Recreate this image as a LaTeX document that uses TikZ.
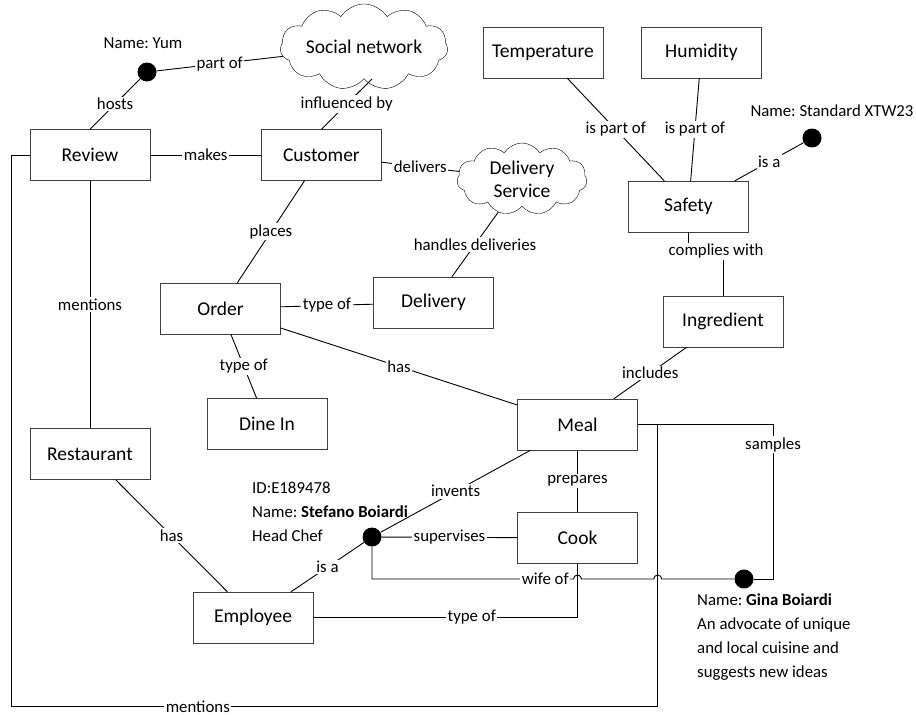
\documentclass[tikz,border=0pt]{standalone}
\usepackage{fontspec}
\setmainfont{Carlito}
\usetikzlibrary{positioning,shapes.symbols}

\begin{document}
\frenchspacing
\begin{tikzpicture}[x=1pt,y=-1pt,box/.style={draw=black!75,fill=white,minimum width=120pt,minimum height=51pt,inner sep=2pt,font=\fontsize{19.5}{23}\selectfont},cld/.style={cloud,cloud puffs=11,cloud puff arc=115,draw=black,fill=white,inner sep=0pt,align=center,font=\fontsize{19.5}{23}\selectfont},dot/.style={circle,fill=black,inner sep=0pt,minimum size=19pt},lbl/.style={fill=white,inner sep=1.5pt,font=\fontsize{16.8}{20}\selectfont},txt/.style={inner sep=0pt,align=left,font=\fontsize{16.8}{24}\selectfont},conn/.style={draw=black,line width=0.9pt}]
\useasboundingbox (0,0) rectangle (916,715);
\node[box] (review) at (90,155) {Review};
\node[box,right=111pt of review] (customer) {Customer};
\node[box] (order) at (220.5,308.5) {Order};
\node[box] (delivery) at (433.5,302.5) {Delivery};
\node[box] (dinein) at (267,424) {Dine In};
\node[box] (restaurant) at (90,454) {Restaurant};
\node[box] (employee) at (253,617.5) {Employee};
\node[box] (meal) at (577.5,424.5) {Meal};
\node[box,below=62pt of meal] (cook) {Cook};
\node[box] (ingredient) at (723,321.5) {Ingredient};
\node[box] (safety) at (688.5,206.5) {Safety};
\node[box] (temperature) at (543,52.5) {Temperature};
\node[box,right=38pt of temperature] (humidity) {Humidity};
\node[cld,aspect=2.6,minimum width=164pt,minimum height=64pt] (social) at (364,47) {Social network};
\node[cld,aspect=1.8,minimum width=130pt,minimum height=72pt] (delserv) at (522,179) {Delivery\\Service};
\node[dot] (yum) at (147,72) {};
\node[dot] (xtw) at (812,138) {};
\node[dot] (chef) at (372,537) {};
\node[dot] (gina) at (744,579) {};
\node[txt] (yumtxt) at (143,43) {Name: Yum};
\node[txt] (xtwtxt) at (832,111) {Name: Standard XTW23};
\node[txt,anchor=north west] (cheftxt) at (252,482) {ID:E189478\\Name: \textbf{Stefano Boiardi}\\Head Chef};
\node[txt,anchor=north west] (ginatxt) at (697,594) {Name: \textbf{Gina Boiardi}\\An advocate of unique\\and local cuisine and\\suggests new ideas};
\draw[conn](review.north)--node[lbl]{hosts}(yum);\draw[conn](yum)--node[lbl]{part of}(social);
\draw[conn](customer.north)--node[lbl]{influenced by}([xshift=8pt]social.south);
\draw[conn](review)--node[lbl]{makes}(customer);\draw[conn](customer)--node[lbl]{delivers}(delserv);
\draw[conn](delserv)--node[lbl]{handles deliveries}(delivery);\draw[conn](customer)--node[lbl]{places}(order);
\draw[conn](order)--node[lbl]{type of}(delivery);\draw[conn](order)--node[lbl]{type of}(dinein);\draw[conn](order)--node[lbl]{has}(meal);
\draw[conn](review)--node[lbl]{mentions}(restaurant);\draw[conn](restaurant)--node[lbl]{has}(employee);
\draw[conn](temperature)--node[lbl]{is part of}(safety);\draw[conn](humidity)--node[lbl]{is part of}(safety);
\draw[conn](safety)--node[lbl]{is a}(xtw);
\draw[conn](safety.south)--++(0,19)-|node[lbl,pos=.4]{complies with}(ingredient.north);
\draw[conn](ingredient)--node[lbl]{includes}(meal);\draw[conn](meal)--node[lbl]{prepares}(cook);
\draw[conn](employee)--node[lbl]{is a}(chef);\draw[conn](chef)--node[lbl]{invents}(meal);\draw[conn](chef)--node[lbl]{supervises}(cook);
\draw[conn](employee.east)-|node[lbl,pos=.3]{type of}(cook.south);
\draw[conn](meal.east)-|node[lbl,pos=.565]{samples}([xshift=29pt]gina.center)--(gina);
\draw[conn](review.west)--++(-18,0)|-node[lbl,pos=.644]{mentions}([xshift=20pt,yshift=-282pt]meal.east)--([xshift=20pt]meal.east)--(meal.east);
\draw[conn](chef)|-node[lbl,pos=.93]{wife of}([xshift=-4pt]cook.south|-gina)arc[start angle=180,end angle=0,radius=4pt]--([xshift=16pt]meal.east|-gina)arc[start angle=180,end angle=0,radius=4pt]--(gina);
\end{tikzpicture}
\end{document}
